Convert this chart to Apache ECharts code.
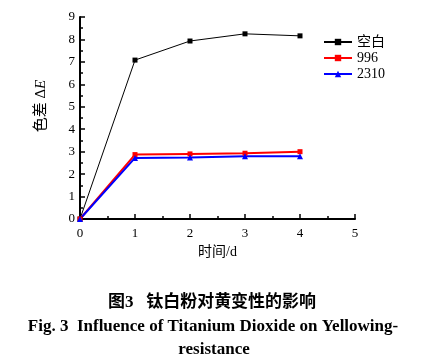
<!DOCTYPE html>
<html><head><meta charset="utf-8">
<script src="https://cdn.jsdelivr.net/npm/echarts@6/dist/echarts.min.js"></script>
<style>html,body{margin:0;padding:0;background:#fff}#c{width:424px;height:361px}</style>
</head><body><div id="c"></div>
<script>
var days = [0, 1, 2, 3, 4];
var blank = [0, 7.08, 7.93, 8.25, 8.16];
var s996 = [0, 2.87, 2.9, 2.93, 3.0];
var s2310 = [0, 2.72, 2.74, 2.8, 2.8];
var seriesNames = ['空白', '996', '2310'];
var xTicks = [0, 1, 2, 3, 4, 5];
var yTicks = [0, 1, 2, 3, 4, 5, 6, 7, 8, 9];

var serif = '"Liberation Serif", "Noto Sans CJK SC", serif';
var chart = echarts.init(document.getElementById('c'));
function pairs(v){ return days.map(function(d,i){ return [d, v[i]]; }); }
chart.setOption({
  animation: false,
  grid: {left: 80, right: 69, top: 17, bottom: 142},
  legend: {
    right: 34, top: 30, orient: 'vertical', itemWidth: 28, itemHeight: 8, itemGap: 2,
    textStyle: {fontFamily: serif, fontSize: 14, color: '#000'},
    data: seriesNames
  },
  xAxis: {
    type: 'value', min: 0, max: 5, interval: 1,
    axisLine: {lineStyle: {color: '#000', width: 2}},
    axisTick: {inside: true, length: 5, lineStyle: {color: '#000', width: 1.5}},
    minorTick: {show: true, splitNumber: 2, length: 3, lineStyle: {color: '#000', width: 1.5}},
    splitLine: {show: false},
    axisLabel: {fontFamily: serif, fontSize: 13, color: '#000', margin: 8},
    name: '时间/d', nameLocation: 'middle', nameGap: 25,
    nameTextStyle: {fontFamily: serif, fontSize: 14, color: '#000'}
  },
  yAxis: {
    type: 'value', min: 0, max: 9, interval: 1,
    axisLine: {show: true, lineStyle: {color: '#000', width: 2}},
    axisTick: {show: true, inside: true, length: 5, lineStyle: {color: '#000', width: 1.5}},
    minorTick: {show: true, splitNumber: 2, length: 3, lineStyle: {color: '#000', width: 1.5}},
    splitLine: {show: false},
    axisLabel: {fontFamily: serif, fontSize: 13, color: '#000', margin: 5}
  },
  series: [
    {name: seriesNames[0], type: 'line', data: pairs(blank), symbol: 'rect', symbolSize: 5,
     lineStyle: {color: '#000', width: 1}, itemStyle: {color: '#000'}},
    {name: seriesNames[1], type: 'line', data: pairs(s996), symbol: 'rect', symbolSize: 5,
     lineStyle: {color: '#ff0000', width: 2}, itemStyle: {color: '#ff0000'}},
    {name: seriesNames[2], type: 'line', data: pairs(s2310), symbol: 'triangle', symbolSize: 6,
     lineStyle: {color: '#0000ff', width: 2}, itemStyle: {color: '#0000ff'}}
  ],
  graphic: [
    {type: 'text', x: 41, y: 106, rotation: Math.PI / 2,
     style: {text: '{a|色差 Δ}{b|E}', align: 'center', verticalAlign: 'middle',
       rich: {a: {fontFamily: serif, fontSize: 15, fill: '#000'}, b: {fontFamily: serif, fontSize: 15, fontStyle: 'italic', fill: '#000'}}}},
    {type: 'text', x: 212, y: 303, style: {text: '图3   钛白粉对黄变性的影响', font: 'bold 17px ' + serif, fill: '#000', align: 'center', verticalAlign: 'middle'}},
    {type: 'text', x: 213, y: 327, style: {text: 'Fig. 3  Influence of Titanium Dioxide on Yellowing-', font: 'bold 17px ' + serif, fill: '#000', align: 'center', verticalAlign: 'middle'}},
    {type: 'text', x: 214, y: 350, style: {text: 'resistance', font: 'bold 17px ' + serif, fill: '#000', align: 'center', verticalAlign: 'middle'}}
  ]
});
</script></body></html>
